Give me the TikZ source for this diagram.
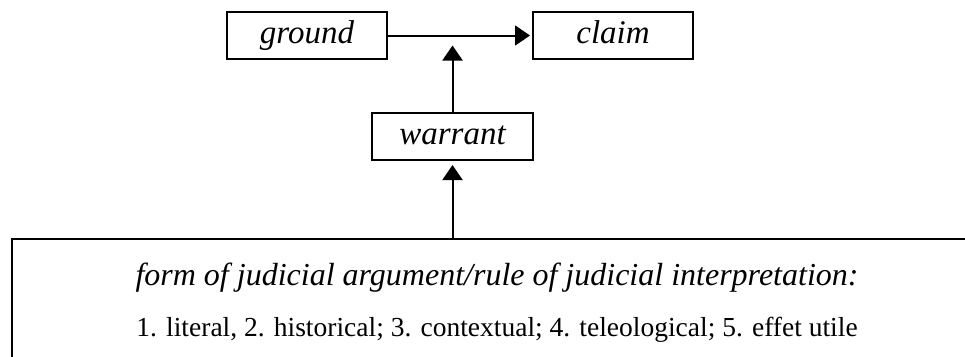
\documentclass[tikz,border=0pt]{standalone}
\usepackage{fontspec}
\setmainfont{Liberation Serif}
\usetikzlibrary{arrows.meta}

\tikzset{
  argbox/.style={draw, line width=2pt, minimum width=160pt, minimum height=47pt,
    inner sep=0pt, text height=23pt, text depth=8pt,
    font=\fontsize{33}{38}\selectfont\itshape},
  link/.style={line width=2pt, -{Triangle[length=15pt,width=20pt]}},
}

\begin{document}
\begin{tikzpicture}[x=1pt,y=-1pt]
  \useasboundingbox (0,0) rectangle (965,356);
  \clip (0,0) rectangle (965,356);
  \node[argbox] (ground) at (307,35.5) {ground};
  \node[argbox] (claim) at (613,35.5) {claim};
  \node[argbox, minimum width=161pt] (warrant) at (452.5,136.5) {warrant};
  \node[draw, line width=2pt, minimum width=980pt, minimum height=170pt,
    anchor=north west] (forms) at (11,238) {};
  \node[anchor=base, font=\fontsize{32}{37}\selectfont\itshape] (formtitle) at (497,285)
    {form of judicial argument/rule of judicial interpretation:};
  \node[anchor=base, font=\fontsize{27.5}{32}\selectfont] (formlist) at (497,336)
    {1. literal, 2. historical; 3. contextual; 4. teleological; 5. effet utile};
  \draw[link, shorten >=2pt] (ground) -- (claim);
  \draw[link, shorten >=10pt] (warrant.north) -- (warrant.north |- ground.east);
  \draw[link, shorten >=4pt] (warrant.south |- forms.north) -- (warrant.south);
\end{tikzpicture}
\end{document}
